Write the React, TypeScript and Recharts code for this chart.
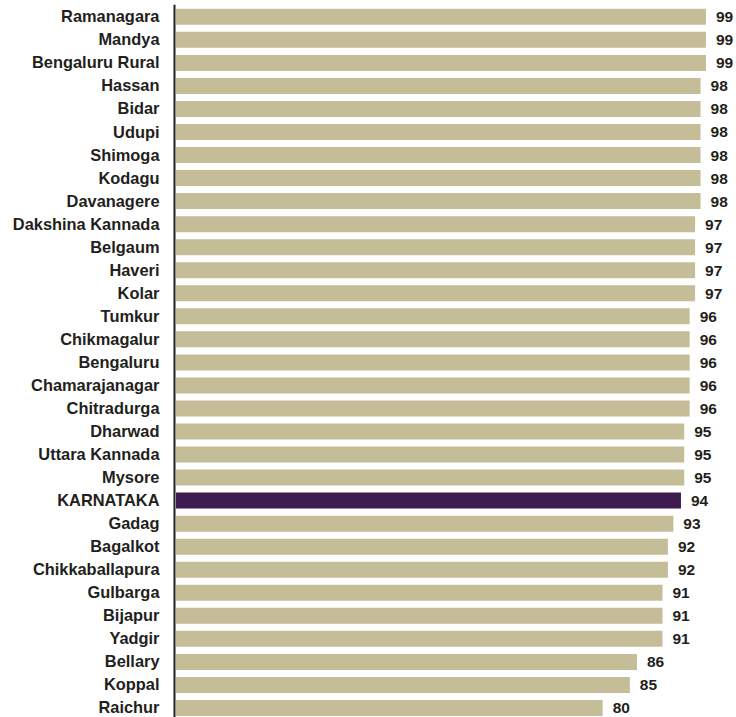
import React from 'react';
import { BarChart, Bar, XAxis, YAxis, Cell, LabelList } from 'recharts';

const districts = [
  'Ramanagara', 'Mandya', 'Bengaluru Rural', 'Hassan', 'Bidar', 'Udupi', 'Shimoga', 'Kodagu',
  'Davanagere', 'Dakshina Kannada', 'Belgaum', 'Haveri', 'Kolar', 'Tumkur', 'Chikmagalur',
  'Bengaluru', 'Chamarajanagar', 'Chitradurga', 'Dharwad', 'Uttara Kannada', 'Mysore',
  'KARNATAKA', 'Gadag', 'Bagalkot', 'Chikkaballapura', 'Gulbarga', 'Bijapur', 'Yadgir',
  'Bellary', 'Koppal', 'Raichur',
];

const values = [
  99, 99, 99, 98, 98, 98, 98, 98,
  98, 97, 97, 97, 97, 96, 96,
  96, 96, 96, 95, 95, 95,
  94.4, 93, 92, 92, 91, 91, 91,
  86.3, 85, 80,
];

const highlight = 'KARNATAKA';

const data = districts.map((name, i) => ({ name, value: values[i] }));

const TEXT = '#231f20';
const FONT = '"Liberation Sans", Arial, Helvetica, sans-serif';

const CategoryTick = (props: any) => {
  const { x, y, payload } = props;
  return (
    <text
      x={x}
      y={y}
      textAnchor="end"
      dominantBaseline="central"
      fontFamily={FONT}
      fontWeight="bold"
      fontSize={16.4}
      fill={TEXT}
    >
      {payload.value}
    </text>
  );
};

export default function App() {
  return (
    <div style={{ position: 'absolute', left: 0, top: 0, background: '#fff' }}>
      <BarChart
        width={736}
        height={719}
        data={data}
        layout="vertical"
        margin={{ top: 4.8, right: 24.6, left: 0, bottom: 0 }}
      >
        <XAxis type="number" domain={[1.5, 100]} allowDataOverflow hide />
        <YAxis
          type="category"
          dataKey="name"
          width={176}
          tickLine={false}
          tickSize={0}
          tickMargin={16.5}
          interval={0}
          tick={<CategoryTick />}
          axisLine={{ stroke: TEXT, strokeWidth: 2, transform: 'translate(-1.5,0)' }}
        />
        <Bar dataKey="value" barSize={16} isAnimationActive={false}>
          {data.map((d) => (
            <Cell key={d.name} fill={d.name === highlight ? '#3e1c51' : '#c5bd98'} />
          ))}
          <LabelList
            dataKey="value"
            position="right"
            offset={10}
            formatter={(v: any) => Math.round(Number(v)).toString()}
            style={{ fontFamily: FONT, fontWeight: 'bold', fontSize: 15.5, fill: TEXT }}
          />
        </Bar>
      </BarChart>
    </div>
  );
}
